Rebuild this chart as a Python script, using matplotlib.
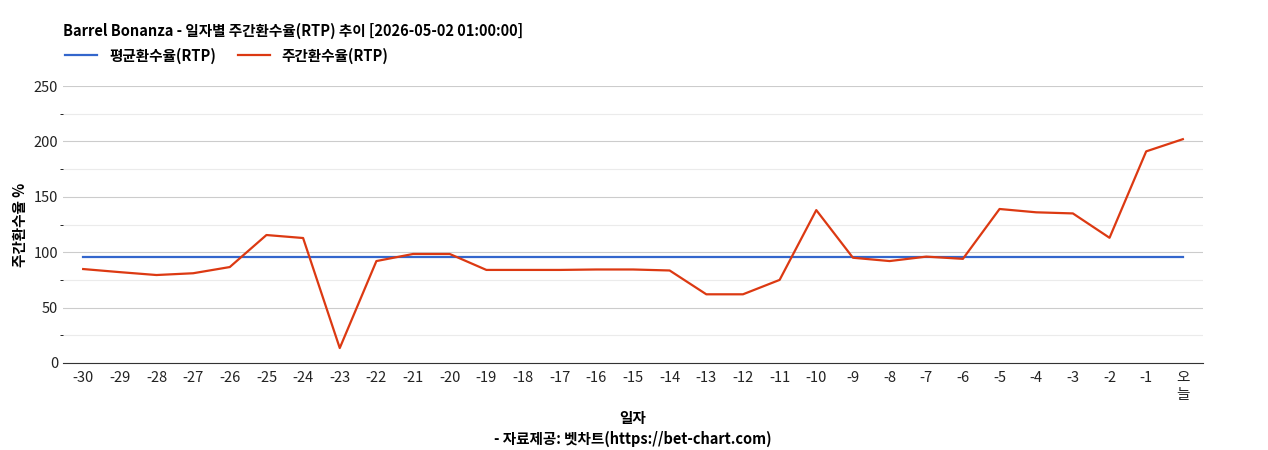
import matplotlib
matplotlib.use("Agg")
import matplotlib.pyplot as plt
from matplotlib.ticker import MultipleLocator

plt.rcParams['font.family'] = ['Noto Sans CJK KR', 'DejaVu Sans']

days = [str(d) for d in range(-30, 0)] + ['오\n늘']
weekly_rtp = [84.8, 82, 79.4, 81, 86.6, 115.5, 112.8, 13.5, 92, 98.4, 98.4,
              84, 84, 84, 84.4, 84.4, 83.5, 62, 62, 75, 138, 95, 92, 96, 94,
              139, 136, 135, 113, 191, 202]
avg_rtp = [96] * len(days)

fig = plt.figure(figsize=(12.68, 4.5), dpi=100)
ax = fig.add_axes([63 / 1268, 1 - 363 / 450, 1140 / 1268, 277 / 450])

x = list(range(len(days)))
ax.plot(x, avg_rtp, color='#3366cc', lw=1.6, label='평균환수율(RTP)')
ax.plot(x, weekly_rtp, color='#dc3912', lw=1.6, label='주간환수율(RTP)')

ax.set_xlim(-0.55, len(days) - 0.45)
ax.set_ylim(0, 250)
ax.yaxis.set_major_locator(MultipleLocator(50))
ax.yaxis.set_minor_locator(MultipleLocator(25))
ax.grid(axis='y', which='major', color='#cccccc', lw=0.8)
ax.grid(axis='y', which='minor', color='#ebebeb', lw=0.8)
ax.set_axisbelow(True)
ax.set_xticks(x)
ax.set_xticklabels(days)
ax.tick_params(axis='both', length=0, labelsize=10.5, colors='#222222')
ax.tick_params(axis='x', pad=6)
for s in ['top', 'right', 'left']:
    ax.spines[s].set_visible(False)
ax.spines['bottom'].set_color('#333333')

ax.set_ylabel('주간환수율 %', fontsize=10.5, fontweight='bold')
ax.set_xlabel('일자\n- 자료제공: 벳차트(https://bet-chart.com)', fontsize=10.5,
              fontweight='bold', labelpad=6, linespacing=1.4)

fig.text(63 / 1268, 1 - 31 / 450, 'Barrel Bonanza - 일자별 주간환수율(RTP) 추이 [2026-05-02 01:00:00]',
         fontsize=10.5, fontweight='bold', va='center')
ax.legend(loc='lower left', bbox_to_anchor=(-0.003, 1.06), ncol=2, frameon=False,
          fontsize=10.5, prop={'weight': 'bold', 'size': 10.5}, handlelength=2.2,
          borderaxespad=0, columnspacing=1.5)

fig.savefig('out.png', dpi=100)
